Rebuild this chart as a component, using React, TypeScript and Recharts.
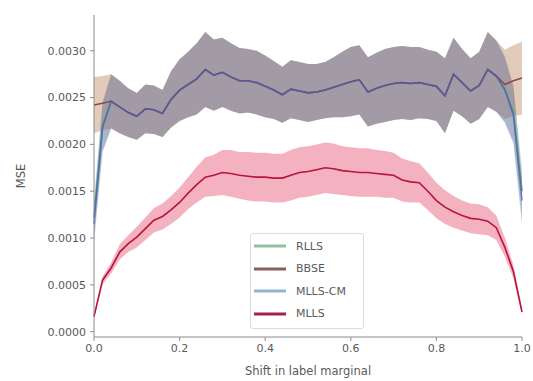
import React from 'react';
import { ComposedChart, Area, Line, XAxis, YAxis } from 'recharts';

// label-marginal shift, sampled every 0.02
const SHIFTS = [
  0.0, 0.02, 0.04, 0.06, 0.08, 0.1, 0.12, 0.14, 0.16, 0.18,
  0.2, 0.22, 0.24, 0.26, 0.28, 0.3, 0.32, 0.34, 0.36, 0.38,
  0.4, 0.42, 0.44, 0.46, 0.48, 0.5, 0.52, 0.54, 0.56, 0.58,
  0.6, 0.62, 0.64, 0.66, 0.68, 0.7, 0.72, 0.74, 0.76, 0.78,
  0.8, 0.82, 0.84, 0.86, 0.88, 0.9, 0.92, 0.94, 0.96, 0.98, 1.0,
];

const RLLS_MEAN = [
  0.00122, 0.0022, 0.00246, 0.0024, 0.00234, 0.0023, 0.00238, 0.00237, 0.00233, 0.00248,
  0.00258, 0.00264, 0.0027, 0.0028, 0.00274, 0.00277, 0.00272, 0.00268, 0.00268, 0.00266,
  0.00262, 0.00258, 0.00253, 0.00259, 0.00257, 0.00255, 0.00256, 0.00258, 0.00261, 0.00264,
  0.00267, 0.00269, 0.00256, 0.0026, 0.00263, 0.00265, 0.00266, 0.00265, 0.00266, 0.00264,
  0.00262, 0.00252, 0.00275, 0.00266, 0.00257, 0.00263, 0.0028, 0.00273, 0.00259, 0.00234, 0.0015,
];

const BBSE_MEAN = [
  0.00242, 0.00244, 0.00246, 0.0024, 0.00234, 0.0023, 0.00238, 0.00237, 0.00233, 0.00248,
  0.00258, 0.00264, 0.0027, 0.0028, 0.00274, 0.00277, 0.00272, 0.00268, 0.00268, 0.00266,
  0.00262, 0.00258, 0.00253, 0.00259, 0.00257, 0.00255, 0.00256, 0.00258, 0.00261, 0.00264,
  0.00267, 0.00269, 0.00256, 0.0026, 0.00263, 0.00265, 0.00266, 0.00265, 0.00266, 0.00264,
  0.00262, 0.00252, 0.00275, 0.00266, 0.00257, 0.00263, 0.0028, 0.00273, 0.00264, 0.00268, 0.00271,
];

const MLLS_CM_MEAN = [
  0.00115, 0.00218, 0.00246, 0.0024, 0.00234, 0.0023, 0.00238, 0.00237, 0.00233, 0.00248,
  0.00258, 0.00264, 0.0027, 0.0028, 0.00274, 0.00277, 0.00272, 0.00268, 0.00268, 0.00266,
  0.00262, 0.00258, 0.00253, 0.00259, 0.00257, 0.00255, 0.00256, 0.00258, 0.00261, 0.00264,
  0.00267, 0.00269, 0.00256, 0.0026, 0.00263, 0.00265, 0.00266, 0.00265, 0.00266, 0.00264,
  0.00262, 0.00252, 0.00275, 0.00266, 0.00257, 0.00263, 0.0028, 0.00273, 0.00258, 0.00231, 0.0014,
];

const MLLS_MEAN = [
  0.00016, 0.00055, 0.00068, 0.00085, 0.00094, 0.00101, 0.0011, 0.00119, 0.00123, 0.0013,
  0.00138, 0.00148, 0.00157, 0.00165, 0.00167, 0.0017, 0.00169, 0.00167, 0.00166, 0.00165,
  0.00165, 0.00164, 0.00164, 0.00167, 0.0017, 0.00171, 0.00173, 0.00175, 0.00174, 0.00172,
  0.00171, 0.0017, 0.0017, 0.00169, 0.00168, 0.00167, 0.00162, 0.0016, 0.00159, 0.0015,
  0.0014, 0.00133, 0.00128, 0.00124, 0.00121, 0.0012, 0.00118, 0.00111, 0.0009, 0.00064, 0.00021,
];

// half-width of the shaded band around each mean
const RLLS_SPREAD = [
  0.0002, 0.00026, 0.00029, 0.00028, 0.00026, 0.00025, 0.00026, 0.00026, 0.00025, 0.0003,
  0.00033, 0.00035, 0.00038, 0.0004, 0.00038, 0.00037, 0.00036, 0.00035, 0.00034, 0.00034,
  0.00033, 0.00031, 0.0003, 0.00031, 0.00031, 0.00031, 0.0003, 0.0003, 0.00032, 0.00035,
  0.00037, 0.00037, 0.00037, 0.00038, 0.00039, 0.00039, 0.00039, 0.00039, 0.00038, 0.00037,
  0.00037, 0.0004, 0.00039, 0.00036, 0.00035, 0.00036, 0.0004, 0.00038, 0.00035, 0.0003, 0.00025,
];

const BBSE_SPREAD = [
  0.0003, 0.00029, 0.00029, 0.00028, 0.00026, 0.00025, 0.00026, 0.00026, 0.00025, 0.0003,
  0.00033, 0.00035, 0.00038, 0.0004, 0.00038, 0.00037, 0.00036, 0.00035, 0.00034, 0.00034,
  0.00033, 0.00031, 0.0003, 0.00031, 0.00031, 0.00031, 0.0003, 0.0003, 0.00032, 0.00035,
  0.00037, 0.00037, 0.00037, 0.00038, 0.00039, 0.00039, 0.00039, 0.00039, 0.00038, 0.00037,
  0.00037, 0.0004, 0.00039, 0.00036, 0.00035, 0.00036, 0.0004, 0.00038, 0.00037, 0.00038, 0.00039,
];

const MLLS_CM_SPREAD = RLLS_SPREAD;

const MLLS_SPREAD = [
  0.00002, 0.00004, 0.00006, 0.00008, 0.00009, 0.00011, 0.00012, 0.00013, 0.00014, 0.00015,
  0.00016, 0.00017, 0.00019, 0.00021, 0.00022, 0.00024, 0.00025, 0.00025, 0.00026, 0.00026,
  0.00026, 0.00026, 0.00026, 0.00027, 0.00027, 0.00027, 0.00027, 0.00027, 0.00027, 0.00026,
  0.00026, 0.00026, 0.00026, 0.00025, 0.00025, 0.00024, 0.00023, 0.00022, 0.00021, 0.0002,
  0.00019, 0.00018, 0.00017, 0.00016, 0.00016, 0.00016, 0.00015, 0.00013, 0.0001, 0.00007, 0.00003,
];

const X_TICKS = [0, 0.2, 0.4, 0.6, 0.8, 1.0];
const Y_TICKS = [0, 0.0005, 0.001, 0.0015, 0.002, 0.0025, 0.003];

const LEGEND_ITEMS = [
  { name: 'RLLS', color: '#8fc0a0' },
  { name: 'BBSE', color: '#8a5e5e' },
  { name: 'MLLS-CM', color: '#93b3cf' },
  { name: 'MLLS', color: '#a8204a' },
];

const data = SHIFTS.map((x, i) => ({
  x,
  rlls: RLLS_MEAN[i],
  bbse: BBSE_MEAN[i],
  mllsCm: MLLS_CM_MEAN[i],
  mlls: MLLS_MEAN[i],
  rllsBand: [RLLS_MEAN[i] - RLLS_SPREAD[i], RLLS_MEAN[i] + RLLS_SPREAD[i]],
  bbseBand: [BBSE_MEAN[i] - BBSE_SPREAD[i], BBSE_MEAN[i] + BBSE_SPREAD[i]],
  mllsCmBand: [MLLS_CM_MEAN[i] - MLLS_CM_SPREAD[i], MLLS_CM_MEAN[i] + MLLS_CM_SPREAD[i]],
  mllsBand: [MLLS_MEAN[i] - MLLS_SPREAD[i], MLLS_MEAN[i] + MLLS_SPREAD[i]],
}));

const FONT = 'DejaVu Sans, sans-serif';
const AXIS_COLOR = '#8c8c8c';
const TEXT_COLOR = '#5a5a5a';

const W = 533;
const H = 381;

export default function App() {
  return (
    <div style={{ position: 'absolute', left: 0, top: 0, width: W, height: H, background: '#fff', fontFamily: FONT }}>
      <ComposedChart width={W} height={H} data={data} margin={{ top: 15, right: 11, bottom: 0, left: 0 }}>
        <XAxis
          dataKey="x"
          type="number"
          domain={[0, 1]}
          ticks={X_TICKS}
          tickFormatter={(v: number) => v.toFixed(1)}
          height={44}
          stroke={AXIS_COLOR}
          tickSize={4}
          tick={{ fill: TEXT_COLOR, fontSize: 11, fontFamily: FONT }}
          tickMargin={3}
        />
        <XAxis xAxisId="top" orientation="top" dataKey="x" type="number" domain={[0, 1]} height={0} tick={false} tickLine={false} stroke={AXIS_COLOR} />
        <YAxis
          type="number"
          domain={[-0.000057, 0.003382]}
          allowDataOverflow
          ticks={Y_TICKS}
          tickFormatter={(v: number) => v.toFixed(4)}
          width={94}
          stroke={AXIS_COLOR}
          tickSize={4}
          tick={{ fill: TEXT_COLOR, fontSize: 11, fontFamily: FONT }}
          tickMargin={4}
        />
        <YAxis yAxisId="right" orientation="right" domain={[0, 1]} width={0} tick={false} tickLine={false} stroke={AXIS_COLOR} />

        <Area dataKey="rllsBand" type="linear" stroke="none" fill="#5aa078" fillOpacity={0.25} isAnimationActive={false} />
        <Area dataKey="bbseBand" type="linear" stroke="none" fill="#b5764e" fillOpacity={0.38} isAnimationActive={false} />
        <Area dataKey="mllsCmBand" type="linear" stroke="none" fill="#5f62a6" fillOpacity={0.36} isAnimationActive={false} />
        <Line dataKey="rlls" type="linear" stroke="#4f9a6c" strokeWidth={1.6} dot={false} isAnimationActive={false} />
        <Line dataKey="bbse" type="linear" stroke="#8b4a4a" strokeWidth={1.6} dot={false} isAnimationActive={false} />
        <Line dataKey="mllsCm" type="linear" stroke="#4a5cc0" strokeOpacity={0.7} strokeWidth={1.6} dot={false} isAnimationActive={false} />

        <Area dataKey="mllsBand" type="linear" stroke="none" fill="#e65574" fillOpacity={0.45} isAnimationActive={false} />
        <Line dataKey="mlls" type="linear" stroke="#b8143c" strokeWidth={1.6} dot={false} isAnimationActive={false} />
      </ComposedChart>

      <svg width={W} height={H} style={{ position: 'absolute', left: 0, top: 0, pointerEvents: 'none' }}>
        <text x={308} y={375} textAnchor="middle" fontSize={11.5} fill={TEXT_COLOR} fontFamily={FONT}>
          Shift in label marginal
        </text>
        <text x={25} y={176} textAnchor="middle" fontSize={11.5} fill={TEXT_COLOR} fontFamily={FONT} transform="rotate(-90 25 176)">
          MSE
        </text>
      </svg>

      <div
        style={{
          position: 'absolute',
          left: 250,
          top: 233,
          width: 114,
          height: 96,
          border: '1px solid #dcdcdc',
          borderRadius: 3,
          background: 'rgba(255,255,255,0.85)',
          boxSizing: 'border-box',
        }}
      >
        {LEGEND_ITEMS.map((item, i) => (
          <div key={item.name} style={{ position: 'absolute', left: 0, top: 4 + i * 22.5, height: 16, display: 'flex', alignItems: 'center' }}>
            <svg width={40} height={16}>
              <line x1={3} y1={8} x2={35} y2={8} stroke={item.color} strokeWidth={3} />
            </svg>
            <span style={{ marginLeft: 5, fontSize: 11, color: TEXT_COLOR, fontFamily: FONT }}>{item.name}</span>
          </div>
        ))}
      </div>
    </div>
  );
}
